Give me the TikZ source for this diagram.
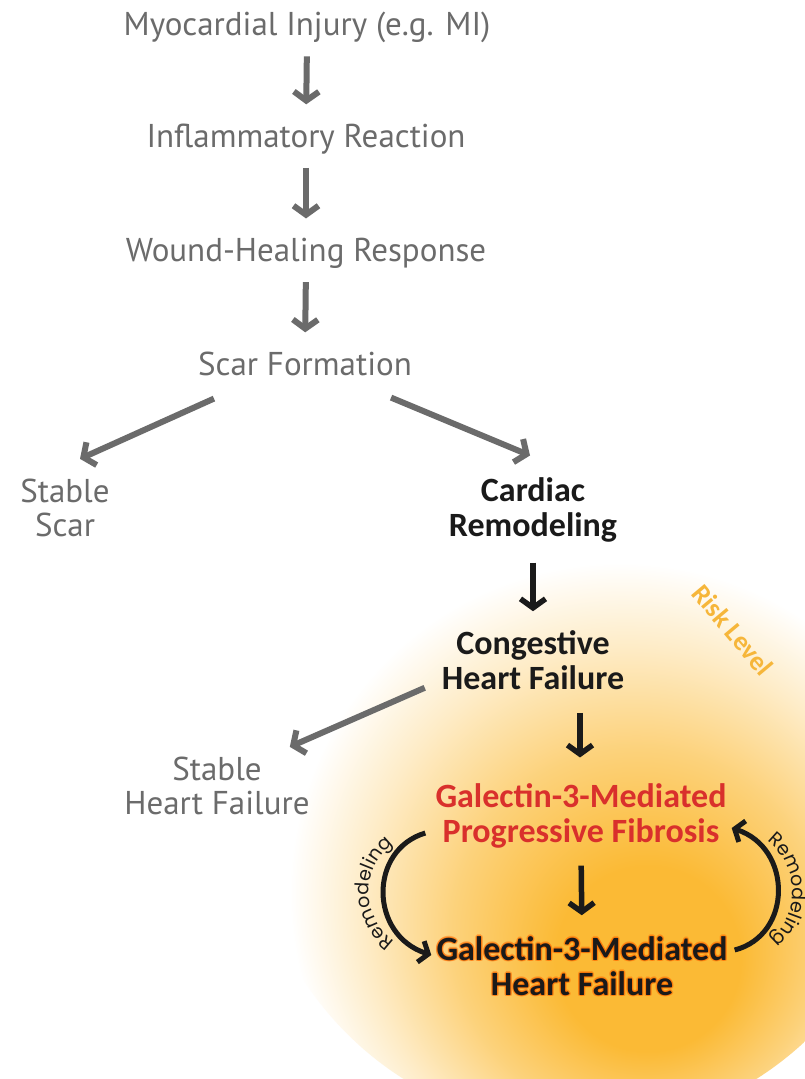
\documentclass[tikz,border=0pt]{standalone}
\usepackage{fontspec}
\setmainfont{Carlito}
\newfontfamily\grayfont{PT Sans}
\newfontfamily\loopfont{Poppins}
\usetikzlibrary{arrows.meta,decorations.text}

\definecolor{stepgray}{HTML}{6B6B6B}
\definecolor{riskblack}{HTML}{1A1A1A}
\definecolor{galred}{HTML}{D9302C}
\definecolor{riskorange}{HTML}{F6B63A}
\definecolor{glowcore}{HTML}{FBBA35}

\pgfdeclareradialshading{riskglow}{\pgfpoint{6bp}{-14bp}}{%
  color(0bp)=(glowcore); color(7bp)=(glowcore);
  color(14bp)=(glowcore!65!white); color(20bp)=(glowcore!28!white);
  color(25bp)=(white); color(50bp)=(white)}

\tikzset{
  graystep/.style={font=\grayfont\fontsize{33}{34}\selectfont, text=stepgray, align=center, inner sep=0pt},
  boldstep/.style={font=\bfseries\fontsize{34}{35}\selectfont, text=riskblack, align=center, inner sep=0pt},
  grayarrow/.style={draw=stepgray, line width=6pt, -{Straight Barb[length=9pt,width=25pt]}},
  blackarrow/.style={draw=riskblack, line width=5.5pt, -{Straight Barb[length=9pt,width=25pt]}},
  loopline/.style={draw=riskblack, line width=5pt, -{Straight Barb[length=8pt,width=22pt]}},
  looptext/.style={decorate, decoration={text along path, text align=center,
    text={|\loopfont\fontsize{19}{19}\selectfont\color{riskblack}|Remodeling}}}
}

\begin{document}
\begin{tikzpicture}[x=1pt,y=-1pt]
\useasboundingbox[fill=white] (0,0) rectangle (805,1079);
% risk level glow
\shade[shading=riskglow] (580,800) circle [radius=330];

% gray chain
\node[graystep, anchor=base] (injury) at (307,35) {Myocardial Injury (e.g. MI)};
\node[graystep, anchor=base] (inflam) at (306,147) {Inflammatory Reaction};
\node[graystep, anchor=base] (wound) at (306,261) {Wound-Healing Response};
\node[graystep, anchor=base] (scar) at (305,375) {Scar Formation};
\node[graystep] (stablescar) at (65,508) {Stable\\Scar};
\node[graystep] (stablehf) at (217,786) {Stable\\Heart Failure};

% bold chain
\node[boldstep] (cardiac) at (533,510) {Cardiac\\Remodeling};
\node[boldstep] (congest) at (533,660) {Congestive\\Heart Failure};
\node[boldstep, text=galred] (fibrosis) at (581,816) {Galectin-3-Mediated\\Progressive Fibrosis};
\foreach \dx/\dy in {1.5/0,-1.5/0,0/1.5,0/-1.5,1.1/1.1,-1.1/1.1,1.1/-1.1,-1.1/-1.1}
  \node[boldstep, text=orange!85!red, opacity=0.4] at (582+\dx,966+\dy) {Galectin-3-Mediated\\Heart Failure};
\node[boldstep] (galhf) at (582,966) {Galectin-3-Mediated\\Heart Failure};

\node[font=\bfseries\fontsize{27}{27}\selectfont, text=riskorange, rotate=-50] (risk) at (733,630) {Risk Level};

% arrows
\draw[grayarrow, shorten <=14pt, shorten >=19pt] (injury.south) -- (inflam.north);
\draw[grayarrow, shorten <=14pt, shorten >=19pt] (inflam.south) -- (wound.north);
\draw[grayarrow, shorten <=14pt, shorten >=19pt] (wound.south) -- (scar.north);
\draw[grayarrow] ([shift={(16,23)}]scar.south west) -- ([shift={(15,-20)}]stablescar.north);
\draw[grayarrow] ([shift={(-21,22)}]scar.south east) -- ([shift={(-3,-22)}]cardiac.north);
\draw[blackarrow, shorten <=20pt, shorten >=19pt] (cardiac.south) -- (congest.north);
\draw[grayarrow] ([shift={(-17,-2)}]congest.south west) -- ([shift={(-20,-10)}]stablehf.north east);
\draw[blackarrow] ([shift={(47,23)}]congest.south) -- ([shift={(-1,-26)}]fibrosis.north);
\draw[blackarrow, shorten <=17pt, shorten >=21pt] (fibrosis.south) -- (galhf.north);

% remodeling loops
\draw[loopline] ([shift={(-10,17)}]fibrosis.west) .. controls +(-57,17) and +(-62,-20) .. ([shift={(-5,-11)}]galhf.west);
\draw[loopline] ([shift={(7,-16)}]galhf.east) .. controls +(58,-15) and +(61,20) .. ([shift={(5,12)}]fibrosis.east);
\path[looptext] (412,950) .. controls (355,932) and (355,852) .. (410,836);
\path[looptext] (745,830) .. controls (808,848) and (808,935) .. (748,950);
\end{tikzpicture}
\end{document}
